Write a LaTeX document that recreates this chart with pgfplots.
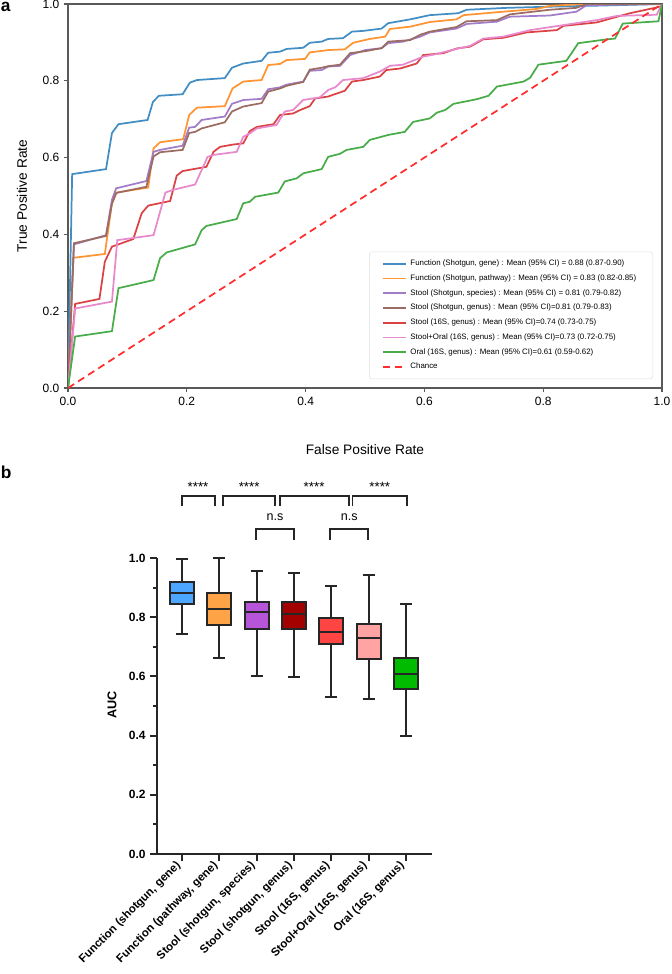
\documentclass[border=0pt]{standalone}
\usepackage{pgfplots}
\pgfplotsset{compat=1.18}
\usepgfplotslibrary{statistics}
\usepackage{fontspec}
\setmainfont{Liberation Sans}

% ROC colours (tab10, a little faded)
\definecolor{rblue}{RGB}{66,142,196}
\definecolor{rorange}{RGB}{255,148,50}
\definecolor{rpurple}{RGB}{162,124,200}
\definecolor{rbrown}{RGB}{155,108,98}
\definecolor{rred}{RGB}{218,66,67}
\definecolor{rpink}{RGB}{231,137,203}
\definecolor{rgreen}{RGB}{72,172,72}
\definecolor{rchance}{RGB}{255,45,45}
% box colours
\definecolor{bblue}{HTML}{4DA6FF}
\definecolor{borange}{HTML}{FFA347}
\definecolor{bpurple}{HTML}{B655D8}
\definecolor{bdarkred}{HTML}{A30000}
\definecolor{bred}{HTML}{FF4444}
\definecolor{bpink}{HTML}{FFA3A3}
\definecolor{bgreen}{HTML}{00BB00}

\begin{document}
\begin{tikzpicture}
\path[use as bounding box] (0pt,0pt) rectangle (503.25pt,-730.5pt);
\node[anchor=base west, inner sep=0pt, font=\bfseries\fontsize{13}{15}\selectfont] at (0.5pt,-9pt) {a};
\node[anchor=base west, inner sep=0pt, font=\bfseries\fontsize{13}{15}\selectfont] at (0.5pt,-359pt) {b};

% ---- panel a: ROC curves
\begin{axis}[
  at={(51pt,-291pt)}, anchor=south west,
  scale only axis, width=445.5pt, height=288pt,
  xmin=0, xmax=1, ymin=0, ymax=1,
  xtick={0,0.2,0.4,0.6,0.8,1}, ytick={0,0.2,0.4,0.6,0.8,1},
  xticklabels={0.0,0.2,0.4,0.6,0.8,1.0}, yticklabels={0.0,0.2,0.4,0.6,0.8,1.0},
  tick align=outside, xtick pos=left, ytick pos=left,
  major tick length=3pt,
  axis line style={draw=black!65, line width=0.8pt},
  tick style={draw=black!65, line width=0.8pt},
  ticklabel style={font=\fontsize{9}{10}\selectfont},
  xlabel={False Positive Rate}, ylabel={True Positive Rate},
  label style={font=\fontsize{10.3}{12}\selectfont},
  xlabel style={at={(axis description cs:0.5,-0.1615)}, anchor=center},
  ylabel style={at={(axis description cs:-0.0774,0.5)}, anchor=center},
  every axis plot/.append style={line width=1.3pt},
  legend cell align=left,
  legend style={at={(0.985,0.023)}, anchor=south east, draw=black!12,
    rounded corners=2pt, font=\fontsize{5.9}{7}\selectfont,
    inner xsep=9.5pt, inner ysep=4pt, row sep=1.3pt,
    nodes={inner xsep=3pt}},
]
\addplot[rblue] coordinates {
 (0,0) (0.007,0.557) (0.064,0.57) (0.074,0.664) (0.085,0.687) (0.134,0.698) (0.143,0.745)
 (0.153,0.761) (0.193,0.765) (0.205,0.795) (0.217,0.802) (0.264,0.807) (0.276,0.834)
 (0.295,0.845) (0.326,0.852) (0.337,0.873) (0.357,0.876) (0.368,0.883) (0.396,0.886)
 (0.407,0.899) (0.427,0.902) (0.438,0.909) (0.463,0.911) (0.478,0.928) (0.497,0.93)
 (0.528,0.936) (0.539,0.95) (0.576,0.96) (0.609,0.971) (0.657,0.976) (0.671,0.985)
 (0.739,0.99) (0.811,0.993) (0.9,0.996) (1,1)};
\addlegendentry{Function (Shotgun, gene) : Mean (95\% CI) = 0.88 (0.87-0.90)}
\addplot[rorange] coordinates {
 (0,0) (0.009,0.339) (0.062,0.349) (0.074,0.481) (0.082,0.509) (0.135,0.522) (0.144,0.624)
 (0.155,0.64) (0.194,0.648) (0.204,0.711) (0.217,0.73) (0.264,0.734) (0.277,0.78)
 (0.295,0.798) (0.326,0.802) (0.337,0.841) (0.357,0.844) (0.368,0.854) (0.399,0.857)
 (0.407,0.874) (0.438,0.88) (0.466,0.882) (0.48,0.899) (0.508,0.909) (0.534,0.915)
 (0.542,0.935) (0.576,0.941) (0.609,0.953) (0.654,0.96) (0.666,0.971) (0.733,0.98)
 (0.789,0.987) (0.811,0.995) (0.867,1) (1,1)};
\addlegendentry{Function (Shotgun, pathway) : Mean (95\% CI) = 0.83 (0.82-0.85)}
\addplot[rpurple] coordinates {
 (0,0) (0.01,0.374) (0.064,0.398) (0.074,0.49) (0.081,0.52) (0.132,0.539) (0.144,0.615)
 (0.155,0.62) (0.193,0.631) (0.204,0.678) (0.214,0.68) (0.225,0.698) (0.264,0.707)
 (0.276,0.74) (0.295,0.75) (0.326,0.753) (0.337,0.778) (0.357,0.783) (0.368,0.79)
 (0.396,0.798) (0.407,0.826) (0.427,0.828) (0.438,0.837) (0.458,0.839) (0.475,0.867)
 (0.5,0.88) (0.528,0.885) (0.539,0.898) (0.564,0.902) (0.593,0.915) (0.609,0.926)
 (0.654,0.936) (0.671,0.948) (0.722,0.954) (0.744,0.967) (0.811,0.97) (0.856,0.98)
 (0.873,0.997) (1,1)};
\addlegendentry{Stool (Shotgun, species) : Mean (95\% CI) = 0.81 (0.79-0.82)}
\addplot[rbrown] coordinates {
 (0,0) (0.01,0.377) (0.064,0.396) (0.074,0.48) (0.081,0.508) (0.132,0.524) (0.144,0.603)
 (0.155,0.614) (0.193,0.62) (0.204,0.664) (0.214,0.667) (0.225,0.676) (0.264,0.692)
 (0.276,0.72) (0.295,0.733) (0.326,0.742) (0.337,0.772) (0.357,0.78) (0.368,0.787)
 (0.396,0.797) (0.407,0.829) (0.427,0.834) (0.438,0.838) (0.458,0.842) (0.475,0.872)
 (0.5,0.877) (0.528,0.885) (0.539,0.902) (0.576,0.906) (0.593,0.92) (0.609,0.928)
 (0.654,0.94) (0.671,0.955) (0.722,0.958) (0.744,0.973) (0.811,0.985) (0.856,0.99)
 (0.873,1) (1,1)};
\addlegendentry{Stool (Shotgun, genus) : Mean (95\% CI)=0.81 (0.79-0.83)}
\addplot[rred] coordinates {
 (0,0) (0.012,0.219) (0.053,0.232) (0.062,0.329) (0.074,0.368) (0.11,0.388) (0.124,0.455)
 (0.135,0.475) (0.172,0.487) (0.183,0.553) (0.193,0.565) (0.233,0.576) (0.245,0.615)
 (0.256,0.628) (0.278,0.634) (0.295,0.637) (0.306,0.669) (0.318,0.68) (0.346,0.687)
 (0.357,0.711) (0.379,0.715) (0.391,0.724) (0.407,0.734) (0.416,0.754) (0.438,0.759)
 (0.447,0.764) (0.466,0.774) (0.478,0.798) (0.497,0.802) (0.525,0.811) (0.536,0.828)
 (0.559,0.832) (0.587,0.845) (0.598,0.867) (0.632,0.872) (0.654,0.884) (0.677,0.889)
 (0.699,0.908) (0.733,0.912) (0.772,0.926) (0.823,0.932) (0.834,0.943) (0.89,0.952)
 (0.946,0.976) (0.997,0.993) (1,1)};
\addlegendentry{Stool (16S, genus) : Mean (95\% CI)=0.74 (0.73-0.75)}
\addplot[rpink] coordinates {
 (0,0) (0.012,0.207) (0.074,0.225) (0.083,0.385) (0.144,0.398) (0.164,0.509) (0.177,0.516)
 (0.214,0.53) (0.235,0.602) (0.245,0.607) (0.284,0.615) (0.295,0.654) (0.306,0.663)
 (0.318,0.676) (0.351,0.685) (0.365,0.72) (0.379,0.724) (0.396,0.75) (0.424,0.757)
 (0.438,0.776) (0.45,0.783) (0.463,0.802) (0.497,0.807) (0.525,0.824) (0.542,0.839)
 (0.564,0.842) (0.598,0.863) (0.615,0.868) (0.654,0.883) (0.677,0.891) (0.699,0.91)
 (0.733,0.915) (0.778,0.932) (0.834,0.945) (0.89,0.958) (0.924,0.969) (0.991,0.972) (1,1)};
\addlegendentry{Stool+Oral (16S, genus) : Mean (95\% CI)=0.73 (0.72-0.75)}
\addplot[rgreen] coordinates {
 (0,0) (0.012,0.134) (0.074,0.148) (0.085,0.26) (0.144,0.281) (0.155,0.338) (0.166,0.353)
 (0.214,0.374) (0.225,0.411) (0.233,0.422) (0.284,0.44) (0.295,0.481) (0.306,0.485)
 (0.315,0.498) (0.354,0.509) (0.365,0.538) (0.385,0.546) (0.396,0.559) (0.427,0.57)
 (0.438,0.602) (0.458,0.61) (0.469,0.62) (0.497,0.628) (0.508,0.646) (0.539,0.659)
 (0.567,0.667) (0.581,0.693) (0.609,0.702) (0.621,0.717) (0.635,0.724) (0.649,0.74)
 (0.688,0.752) (0.708,0.761) (0.722,0.785) (0.767,0.798) (0.778,0.808) (0.792,0.842)
 (0.839,0.852) (0.859,0.898) (0.907,0.908) (0.921,0.91) (0.934,0.949) (0.994,0.955) (1,1)};
\addlegendentry{Oral (16S, genus) : Mean (95\% CI)=0.61 (0.59-0.62)}
\addplot[rchance, dash pattern=on 5.5pt off 3.5pt] coordinates {(0,0) (1,1)};
\addlegendentry{Chance}
\end{axis}

% ---- panel b: AUC box plots
\begin{axis}[
  at={(117.75pt,-640.5pt)}, anchor=south west,
  scale only axis, width=206.25pt, height=222pt,
  xmin=0.33, xmax=7.7, ymin=0, ymax=1,
  axis x line*=bottom, axis y line*=left,
  axis line style={line width=1.4pt, draw=black!85},
  tick style={line width=1.4pt, draw=black!85},
  tick align=outside, major tick length=5pt, minor tick length=3pt,
  ytick={0,0.2,0.4,0.6,0.8,1}, yticklabels={0.0,0.2,0.4,0.6,0.8,1.0},
  minor ytick={0.1,0.3,0.5,0.7,0.9},
  xtick={1,2,3,4,5,6,7},
  xticklabels={{Function (shotgun, gene)},{Function (pathway, gene)},{Stool (shotgun, species)},
    {Stool (shotgun, genus)},{Stool (16S, genus)},{Stool+Oral (16S, genus)},{Oral (16S, genus)}},
  yticklabel style={font=\bfseries\fontsize{9}{10}\selectfont},
  xticklabel style={font=\bfseries\fontsize{8.6}{10}\selectfont, rotate=45, anchor=east},
  ylabel={AUC},
  ylabel style={font=\bfseries\fontsize{9.5}{11}\selectfont, at={(axis description cs:-0.1636,0.503)}, anchor=center},
  clip=false,
  boxplot/draw direction=y,
  boxplot/box extend=0.64, boxplot/whisker extend=0.32,
  boxplot/every median/.style={draw=black!85, line width=1.5pt},
  boxplot/every whisker/.style={draw=black!85, line width=1.5pt},
  every axis plot/.append style={draw=black!85, line width=1.5pt, solid},
]
\addplot[fill=bblue, boxplot prepared={draw position=1, lower whisker=0.743, lower quartile=0.845,
  median=0.883, upper quartile=0.918, upper whisker=0.996}] coordinates {};
\addplot[fill=borange, boxplot prepared={draw position=2, lower whisker=0.663, lower quartile=0.774,
  median=0.829, upper quartile=0.882, upper whisker=1.0}] coordinates {};
\addplot[fill=bpurple, boxplot prepared={draw position=3, lower whisker=0.602, lower quartile=0.760,
  median=0.816, upper quartile=0.850, upper whisker=0.956}] coordinates {};
\addplot[fill=bdarkred, boxplot prepared={draw position=4, lower whisker=0.598, lower quartile=0.759,
  median=0.812, upper quartile=0.853, upper whisker=0.950}] coordinates {};
\addplot[fill=bred, boxplot prepared={draw position=5, lower whisker=0.530, lower quartile=0.710,
  median=0.751, upper quartile=0.797, upper whisker=0.904}] coordinates {};
\addplot[fill=bpink, boxplot prepared={draw position=6, lower whisker=0.523, lower quartile=0.660,
  median=0.731, upper quartile=0.778, upper whisker=0.944}] coordinates {};
\addplot[fill=bgreen, boxplot prepared={draw position=7, lower whisker=0.400, lower quartile=0.557,
  median=0.607, upper quartile=0.663, upper whisker=0.845}] coordinates {};

% significance brackets
\draw[line width=1.2pt, black!85] (axis cs:1,1.176) -- (axis cs:1,1.2095) -- (axis cs:1.884,1.2095) -- (axis cs:1.884,1.176);
\draw[line width=1.2pt, black!85] (axis cs:2.098,1.176) -- (axis cs:2.098,1.2095) -- (axis cs:3.5,1.2095) -- (axis cs:3.5,1.176);
\draw[line width=1.2pt, black!85] (axis cs:3.625,1.176) -- (axis cs:3.625,1.2095) -- (axis cs:5.48,1.2095) -- (axis cs:5.48,1.176);
\draw[line width=1.2pt, black!85] (axis cs:5.57,1.176) -- (axis cs:5.57,1.2095) -- (axis cs:7.03,1.2095) -- (axis cs:7.03,1.176);
\draw[line width=1.2pt, black!85] (axis cs:2.98,1.061) -- (axis cs:2.98,1.098) -- (axis cs:4,1.098) -- (axis cs:4,1.061);
\draw[line width=1.2pt, black!85] (axis cs:4.96,1.061) -- (axis cs:4.96,1.098) -- (axis cs:5.99,1.098) -- (axis cs:5.99,1.061);
\node[anchor=base, font=\fontsize{10}{12}\selectfont] at (axis cs:1.43,1.224) {****};
\node[anchor=base, font=\fontsize{10}{12}\selectfont] at (axis cs:2.8,1.224) {****};
\node[anchor=base, font=\fontsize{10}{12}\selectfont] at (axis cs:4.54,1.224) {****};
\node[anchor=base, font=\fontsize{10}{12}\selectfont] at (axis cs:6.3,1.224) {****};
\node[anchor=base, font=\fontsize{9.4}{11}\selectfont] at (axis cs:3.49,1.128) {n.s};
\node[anchor=base, font=\fontsize{9.4}{11}\selectfont] at (axis cs:5.48,1.128) {n.s};
\end{axis}
\end{tikzpicture}
\end{document}
